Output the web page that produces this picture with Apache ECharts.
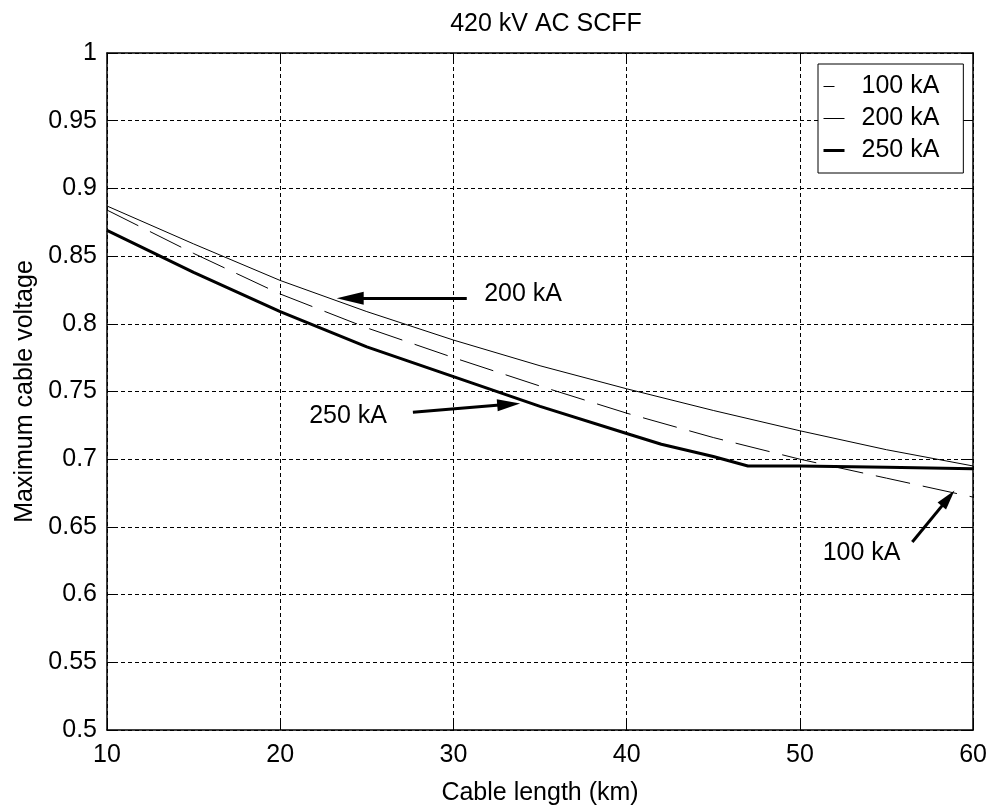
<!DOCTYPE html>
<html lang="en">
<head>
    <meta charset="UTF-8" />
    <title>420 kV AC SCFF</title>
    <script src="https://cdn.jsdelivr.net/npm/echarts@6.0.0/dist/echarts.min.js"></script>
    <style>
        html, body { margin: 0; padding: 0; background: #fff; }
        #main { width: 990px; height: 811px; }
    </style>
</head>
<body>
    <div id="main"></div>
    <script type="text/javascript">
        // data
        const km = [10, 15, 20, 25, 30, 35, 40, 45, 50, 55, 60];
        const v100 = [0.884, 0.852, 0.822, 0.797, 0.775, 0.754, 0.734, 0.716, 0.700, 0.686, 0.672];
        const v200 = [0.887, 0.859, 0.832, 0.809, 0.788, 0.769, 0.752, 0.736, 0.721, 0.707, 0.695];
        const km250 = [10, 15, 20, 25, 30, 35, 40, 42, 45, 47, 50, 55, 60];
        const v250 = [0.869, 0.838, 0.809, 0.783, 0.761, 0.739, 0.719, 0.711, 0.702, 0.695, 0.695, 0.694, 0.693];
        const yTicks = [0.5, 0.55, 0.6, 0.65, 0.7, 0.75, 0.8, 0.85, 0.9, 0.95, 1];

        const font = "Liberation Sans, Arial, sans-serif";
        const fs = 25;
        const pairs = (xs, ys) => xs.map((x, i) => [x, ys[i]]);

        // arrows (tail -> head) and labels, in data units
        const arrows = [
            { from: [30.77, 0.8189], to: [24.04, 0.8189], size: [13, 27] },
            { from: [27.66, 0.7346], to: [33.19, 0.7405], size: [12, 23] },
            { from: [56.49, 0.6389], to: [58.56, 0.6711], size: [11, 20] }
        ];
        const notes = [
            { name: "200 kA", coord: [34.02, 0.8216] },
            { name: "250 kA", coord: [23.92, 0.7317] },
            { name: "100 kA", coord: [53.56, 0.6308] }
        ];

        const axisCommon = {
            type: "value",
            axisLine: { show: true, onZero: false, lineStyle: { color: "#000", width: 1.5 } },
            axisTick: { show: true, inside: true, length: 9, lineStyle: { color: "#000" } },
            splitLine: { show: false }
        };
        const gridDash = { show: true, lineStyle: { color: "#000", type: [4, 3], width: 1 } };

        let myChart = echarts.init(document.getElementById("main"));

        let options = {
            animation: false,
            backgroundColor: "#fff",
            title: {
                text: "420 kV AC SCFF",
                left: 541, top: 7, textAlign: "center",
                textStyle: { fontFamily: font, fontSize: fs, fontWeight: "normal", color: "#000" }
            },
            grid: { left: 107, top: 53, right: 14, bottom: 74 },
            legend: {
                data: [
                    { name: "100 kA", lineStyle: { width: 1, type: [11, 20] } },
                    { name: "200 kA", lineStyle: { width: 1, type: "solid" } },
                    { name: "250 kA", lineStyle: { width: 3, type: "solid" } }
                ],
                orient: "vertical",
                left: 818, top: 64,
                padding: [10, 24, 10, 4],
                itemGap: 7,
                itemWidth: 21, itemHeight: 20,
                backgroundColor: "#fff",
                borderColor: "#000", borderWidth: 1,
                borderRadius: 0,
                itemStyle: { opacity: 0, borderWidth: 0 },
                textStyle: { fontFamily: font, fontSize: fs, color: "#000", padding: [0, 0, 0, 12] }
            },
            xAxis: [
                Object.assign({}, axisCommon, {
                    min: 10, max: 60, interval: 10,
                    name: "Cable length (km)", nameLocation: "middle", nameGap: 51,
                    nameTextStyle: { fontFamily: font, fontSize: fs, color: "#000" },
                    axisLabel: { fontFamily: font, fontSize: fs, color: "#000", margin: 13 },
                    splitLine: gridDash
                }),
                Object.assign({}, axisCommon, {
                    position: "top", min: 10, max: 60, interval: 10,
                    axisLabel: { show: false }
                })
            ],
            yAxis: [
                Object.assign({}, axisCommon, {
                    min: 0.5, max: 1, interval: 0.05,
                    name: "Maximum cable voltage", nameLocation: "middle", nameGap: 64,
                    nameTextStyle: { fontFamily: font, fontSize: fs, color: "#000" },
                    axisLabel: {
                        fontFamily: font, fontSize: fs, color: "#000", margin: 10,
                        formatter: v => {
                            const t = yTicks.find(t => Math.abs(t - v) < 1e-6);
                            return t === undefined ? "" : String(t);
                        }
                    },
                    splitLine: gridDash
                }),
                Object.assign({}, axisCommon, {
                    position: "right", min: 0.5, max: 1, interval: 0.05,
                    axisLabel: { show: false }
                })
            ],
            series: [
                {
                    name: "100 kA", type: "line", data: pairs(km, v100),
                    showSymbol: false, symbol: "none",
                    lineStyle: { color: "#000", width: 1, type: [35, 13] },
                    itemStyle: { color: "#000" }
                },
                {
                    name: "200 kA", type: "line", data: pairs(km, v200),
                    showSymbol: false, symbol: "none",
                    lineStyle: { color: "#000", width: 1 },
                    itemStyle: { color: "#000" }
                },
                {
                    name: "250 kA", type: "line", data: pairs(km250, v250),
                    showSymbol: false, symbol: "none",
                    lineStyle: { color: "#000", width: 3 },
                    itemStyle: { color: "#000" }
                },
                {
                    // annotation helper (arrows + text)
                    name: "notes", type: "line", data: [], silent: true,
                    markLine: {
                        silent: true, animation: false,
                        symbol: ["none", "triangle"],
                        label: { show: false },
                        lineStyle: { color: "#000", width: 3, type: "solid" },
                        data: arrows.map(a => [
                            { coord: a.from, symbolSize: a.size },
                            { coord: a.to, symbolSize: a.size }
                        ])
                    },
                    markPoint: {
                        silent: true, animation: false,
                        symbol: "rect", symbolSize: 1,
                        itemStyle: { color: "rgba(0,0,0,0)" },
                        label: {
                            show: true, position: "inside", formatter: "{b}",
                            fontFamily: font, fontSize: fs, color: "#000"
                        },
                        data: notes
                    }
                }
            ]
        };

        myChart.setOption(options);
    </script>
</body>
</html>
